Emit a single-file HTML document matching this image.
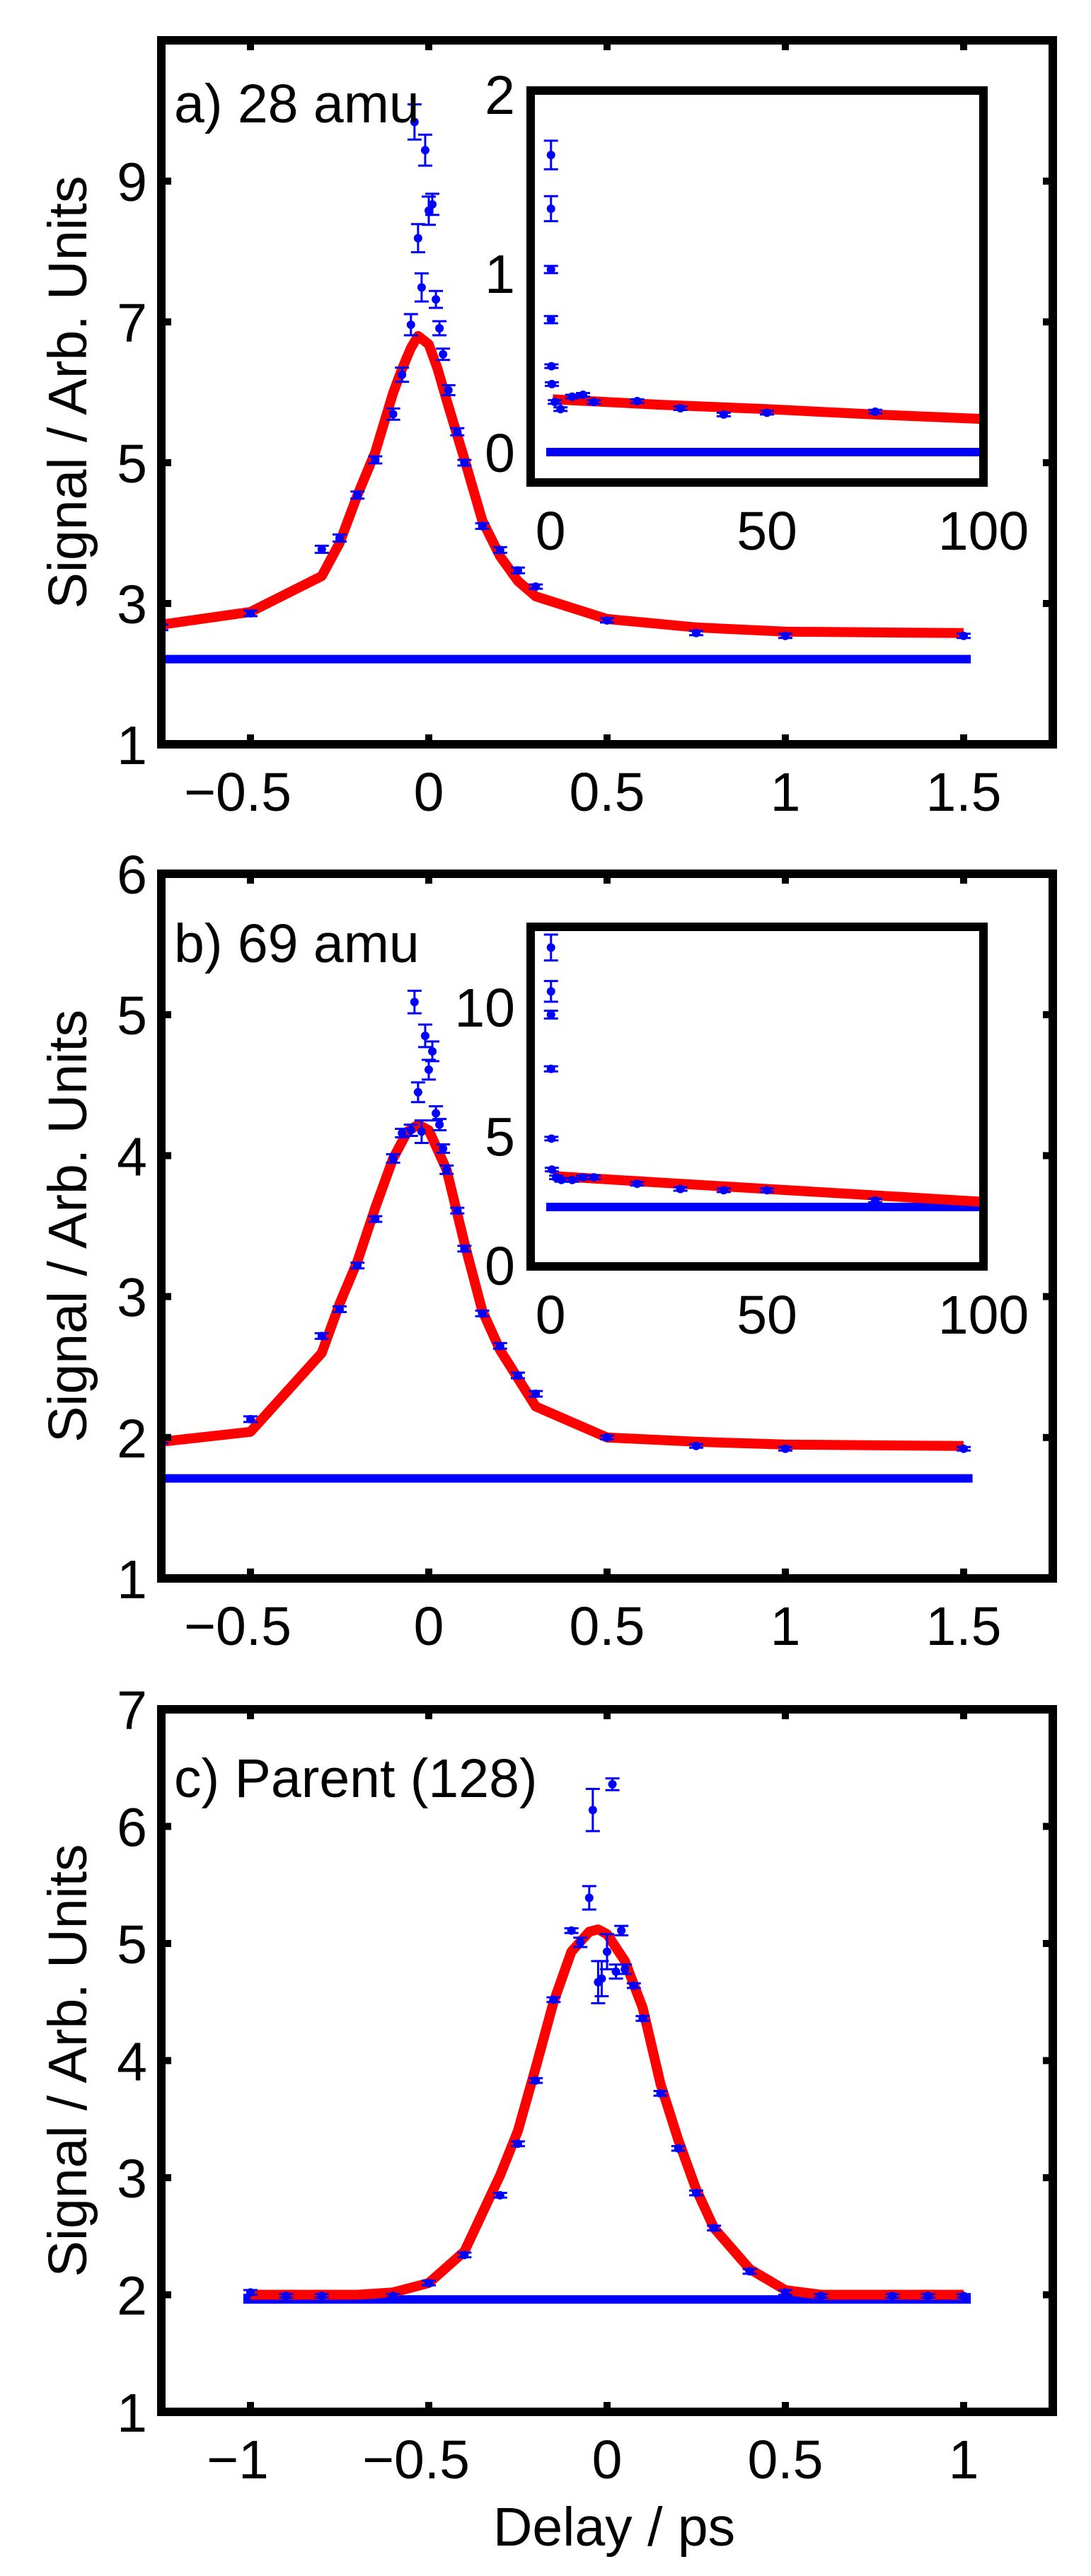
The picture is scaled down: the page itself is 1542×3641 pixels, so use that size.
<!DOCTYPE html>
<html><head><meta charset="utf-8"><style>
html,body{margin:0;padding:0;background:#fff;}
svg text{font-family:"Liberation Sans",sans-serif;fill:#000;}
</style></head><body>
<svg id="fig" xmlns="http://www.w3.org/2000/svg" width="1542" height="3636" viewBox="0 0 1542 3636">
<rect x="0" y="0" width="1542" height="3636" fill="#fff"/>
</svg>
<script>
// ---- Panel a (28 amu) ----
const aX=[-0.75,-0.5,-0.3,-0.25,-0.2,-0.15,-0.1,-0.075,-0.05,-0.04,-0.03,-0.02,-0.01,0,0.01,0.02,0.03,0.04,0.055,0.08,0.1,0.15,0.2,0.25,0.3,0.5,0.75,1,1.5];
const aY=[2.66,2.86,3.77,3.93,4.54,5.04,5.69,6.25,6.96,9.84,8.19,7.49,9.44,8.58,8.67,7.32,6.91,6.54,6.03,5.44,5.0,4.1,3.76,3.47,3.24,2.76,2.58,2.54,2.54];
const aErr=[0.04,0.04,0.05,0.05,0.05,0.05,0.08,0.1,0.15,0.25,0.2,0.2,0.22,0.2,0.15,0.12,0.1,0.08,0.07,0.05,0.04,0.04,0.04,0.04,0.03,0.03,0.03,0.03,0.03];
const aFitX=[-0.75,-0.5,-0.3,-0.25,-0.2,-0.15,-0.1,-0.075,-0.05,-0.03,0,0.025,0.05,0.1,0.15,0.2,0.25,0.3,0.5,0.75,1,1.5];
const aFitY=[2.7,2.88,3.39,3.86,4.54,5.15,5.99,6.33,6.63,6.8,6.68,6.33,5.89,5.05,4.18,3.67,3.32,3.1,2.78,2.66,2.6,2.58];
const aBase=2.21;
const aXTicks=[-0.5,0,0.5,1,1.5];
const aXLabels=["\u22120.5","0","0.5","1","1.5"];
const aYTicks=[1,3,5,7,9];
const aYLabels=["1","3","5","7","9"];
// inset a
const aiX=[0.1,0.1,0.1,0.1,0.2,0.3,1,2.3,5,7.5,10,20,30,40,50,75];
const aiY=[1.66,1.36,1.02,0.74,0.48,0.38,0.28,0.24,0.31,0.32,0.28,0.285,0.245,0.21,0.22,0.226];
const aiErr=[0.08,0.07,0.02,0.02,0.01,0.01,0.01,0.01,0.01,0.01,0.01,0.01,0.01,0.01,0.01,0.01];
const aiFitX=[0.5,25,50,75,100];
const aiFitY=[0.295,0.265,0.24,0.21,0.185];
const aiBase=0;
const aiXTicks=[0,50,100];
const aiYTicks=[0,1,2];

// ---- Panel b (69 amu) ----
const bX=[-0.75,-0.5,-0.3,-0.25,-0.2,-0.15,-0.1,-0.075,-0.05,-0.04,-0.03,-0.02,-0.01,0,0.01,0.02,0.03,0.04,0.05,0.08,0.1,0.15,0.2,0.25,0.3,0.5,0.75,1,1.5];
const bY=[1.98,2.13,2.72,2.91,3.22,3.55,3.98,4.16,4.18,5.09,4.45,4.17,4.85,4.61,4.74,4.30,4.22,4.05,3.90,3.61,3.34,2.88,2.65,2.44,2.31,2.0,1.94,1.92,1.92];
const bErr=[0.02,0.02,0.02,0.02,0.02,0.02,0.03,0.03,0.04,0.08,0.07,0.08,0.08,0.07,0.07,0.05,0.04,0.03,0.03,0.02,0.02,0.02,0.02,0.02,0.02,0.01,0.01,0.01,0.01];
const bFitX=[-0.75,-0.5,-0.3,-0.25,-0.2,-0.15,-0.1,-0.06,-0.03,0,0.05,0.1,0.15,0.2,0.25,0.3,0.5,0.75,1,1.5];
const bFitY=[1.97,2.04,2.6,2.95,3.25,3.63,3.98,4.17,4.22,4.18,3.9,3.38,2.9,2.62,2.42,2.22,2.0,1.97,1.95,1.94];
const bBase=1.71;
const bXTicks=[-0.5,0,0.5,1,1.5];
const bXLabels=["\u22120.5","0","0.5","1","1.5"];
const bYTicks=[1,2,3,4,5,6];
const bYLabels=["1","2","3","4","5","6"];
// inset b
const biX=[0.1,0.1,0.1,0.1,0.2,0.3,1.3,2.5,5,7.5,10,20,30,40,50,75];
const biY=[12.3,10.6,9.7,7.6,4.9,3.7,3.4,3.3,3.3,3.4,3.4,3.15,2.95,2.9,2.9,2.5];
const biErr=[0.5,0.4,0.15,0.1,0.05,0.05,0.05,0.05,0.05,0.05,0.05,0.05,0.05,0.05,0.05,0.05];
const biFitX=[0.5,25,50,75,100];
const biFitY=[3.45,3.2,2.95,2.7,2.45];
const biBase=2.25;
const biXTicks=[0,50,100];
const biYTicks=[0,5,10];

// ---- Panel c (Parent 128) ----
const cX=[-1,-0.9,-0.8,-0.6,-0.5,-0.4,-0.3,-0.25,-0.2,-0.15,-0.1,-0.075,-0.05,-0.04,-0.025,-0.015,0,0.015,0.025,0.04,0.05,0.075,0.1,0.15,0.2,0.25,0.3,0.4,0.5,0.6,0.8,0.9,1];
const cY=[2.02,1.99,1.99,1.99,2.1,2.34,2.85,3.29,3.83,4.52,5.11,5.01,5.39,6.14,4.67,4.70,4.93,6.36,4.76,5.11,4.78,4.64,4.36,3.72,3.25,2.87,2.57,2.2,2.02,1.99,1.99,1.99,1.99];
const cErr=[0.02,0.01,0.01,0.01,0.02,0.02,0.02,0.02,0.02,0.02,0.02,0.04,0.1,0.18,0.18,0.15,0.15,0.05,0.06,0.04,0.04,0.02,0.02,0.02,0.02,0.02,0.02,0.02,0.02,0.01,0.01,0.01,0.01];
const cFitX=[-1,-0.9,-0.8,-0.7,-0.6,-0.5,-0.4,-0.3,-0.25,-0.2,-0.15,-0.1,-0.05,-0.025,0,0.05,0.1,0.15,0.2,0.25,0.3,0.4,0.5,0.6,0.7,0.8,0.9,1];
const cFitY=[2.0,2.0,2.0,2.0,2.02,2.1,2.37,3.02,3.4,3.94,4.5,4.93,5.1,5.12,5.08,4.85,4.45,3.8,3.32,2.9,2.57,2.22,2.04,2.0,2.0,2.0,2.0,2.0];
const cBase=1.96;
const cXTicks=[-1,-0.5,0,0.5,1];
const cXLabels=["\u22121","\u22120.5","0","0.5","1"];
const cYTicks=[1,2,3,4,5,6,7];
const cYLabels=["1","2","3","4","5","6","7"];

const NS="http://www.w3.org/2000/svg";
const svg=document.getElementById('fig');
let clipN=0;
function mk(tag,attrs,parent){const e=document.createElementNS(NS,tag);for(const k in attrs)e.setAttribute(k,attrs[k]);(parent||svg).appendChild(e);return e;}
function scale(d0,d1,p0,p1){return v=>p0+(v-d0)/(d1-d0)*(p1-p0);}

function drawData(g,sx,sy,xs,ys,errs,fx,fy,base,baseX0,baseX1,name,dotR){
  const bl=mk('line',{x1:sx(baseX0),x2:sx(baseX1),y1:sy(base),y2:sy(base),stroke:'#0000ff','stroke-width':12},g);
  
  
  let d='';
  for(let i=0;i<fx.length;i++)d+=(i?'L':'M')+sx(fx[i]).toFixed(1)+','+sy(fy[i]).toFixed(1);
  const fit=mk('path',{d:d,fill:'none',stroke:'#ff0000','stroke-width':14,'stroke-linejoin':'round'},g);
  
  
  for(let i=0;i<xs.length;i++){
    const px=sx(xs[i]),py=sy(ys[i]);
    const e=Math.max(Math.abs(sy(ys[i]+errs[i])-py),2.5);
    const pg=mk('g',{},g);
    
    
    mk('line',{x1:px,x2:px,y1:py-e,y2:py+e,stroke:'#0000ff','stroke-width':3},pg);
    mk('line',{x1:px-10,x2:px+10,y1:py-e,y2:py-e,stroke:'#0000ff','stroke-width':3},pg);
    mk('line',{x1:px-10,x2:px+10,y1:py+e,y2:py+e,stroke:'#0000ff','stroke-width':3},pg);
    mk('circle',{cx:px,cy:py,r:dotR,fill:'#0000ff'},pg);
  }
}

function panel(o){
  const g=mk('g',{});
  
  
  const sx=scale(o.xlim[0],o.xlim[1],o.L,o.R), sy=scale(o.ylim[0],o.ylim[1],o.B,o.T);
  const id='clip'+(clipN++);
  const cp=mk('clipPath',{id:id},g);
  mk('rect',{x:o.L,y:o.T,width:o.R-o.L,height:o.B-o.T},cp);
  const dg=mk('g',{'clip-path':'url(#'+id+')'},g);
  drawData(dg,sx,sy,o.x,o.y,o.err,o.fx,o.fy,o.base,o.baseX0,o.baseX1,o.name,6);
  // ticks
  o.xt.forEach(v=>{
    const t1=mk('line',{x1:sx(v),x2:sx(v),y1:o.B,y2:o.B-14,stroke:'#000','stroke-width':10},g);
     
    mk('line',{x1:sx(v),x2:sx(v),y1:o.T,y2:o.T+14,stroke:'#000','stroke-width':10},g);
  });
  o.yt.forEach(v=>{
    mk('line',{x1:o.L,x2:o.L+14,y1:sy(v),y2:sy(v),stroke:'#000','stroke-width':10},g);
    mk('line',{x1:o.R,x2:o.R-14,y1:sy(v),y2:sy(v),stroke:'#000','stroke-width':10},g);
  });
  const fr=mk('rect',{x:o.L,y:o.T,width:o.R-o.L,height:o.B-o.T,fill:'none',stroke:'#000','stroke-width':12},g);
  
  
  o.xt.forEach((v,i)=>{
    const t=mk('text',{x:sx(v)-(o.xl[i].charAt(0)==='\u2212'?18:0),y:o.B+94,'font-size':77,'text-anchor':'middle'},g);
    t.textContent=o.xl[i];
    
    
  });
  o.yt.forEach((v,i)=>{
    const t=mk('text',{x:208,y:sy(v)+28,'font-size':77,'text-anchor':'end'},g);
    t.textContent=o.yl[i];
    
    
  });
  const cy=(o.T+o.B)/2;
  const yl=mk('text',{x:0,y:0,'font-size':77,'text-anchor':'middle',transform:'translate(122,'+cy+') rotate(-90)'},g);
  yl.textContent='Signal / Arb. Units';
  
  
  const ti=mk('text',{x:246,y:o.titleY,'font-size':77},g);
  ti.textContent=o.title;
  
  
  if(o.inset){
    const n=o.inset;
    const ig=mk('g',{},g);
    
    
    mk('rect',{x:n.L,y:n.T,width:n.R-n.L,height:n.B-n.T,fill:'#fff'},ig);
    const isx=scale(n.xlim[0],n.xlim[1],n.L,n.R), isy=scale(n.ylim[0],n.ylim[1],n.B,n.T);
    const iid='clip'+(clipN++);
    const icp=mk('clipPath',{id:iid},ig);
    mk('rect',{x:n.L,y:n.T,width:n.R-n.L,height:n.B-n.T},icp);
    const idg=mk('g',{'clip-path':'url(#'+iid+')'},ig);
    drawData(idg,isx,isy,n.x,n.y,n.err,n.fx,n.fy,n.base,n.baseX0,n.baseX1,o.name+'-inset',6);
    mk('rect',{x:n.L,y:n.T,width:n.R-n.L,height:n.B-n.T,fill:'none',stroke:'#000','stroke-width':12},ig);
    n.xt.forEach(v=>{
      const t=mk('text',{x:isx(v),y:n.B+95,'font-size':77,'text-anchor':'middle'},ig);
      t.textContent=String(v);
      
      
    });
    n.yt.forEach(v=>{
      const t=mk('text',{x:n.L-22,y:isy(v)+28,'font-size':77,'text-anchor':'end'},ig);
      t.textContent=String(v);
      
      
    });
  }
  return {sx,sy};
}

panel({name:'panel-a-28amu',L:228,R:1488,T:57,B:1052,xlim:[-0.75,1.75],ylim:[1,11],
  x:aX,y:aY,err:aErr,fx:aFitX,fy:aFitY,base:aBase,baseX0:-0.75,baseX1:1.52,
  xt:aXTicks,xl:aXLabels,yt:aYTicks,yl:aYLabels,title:'a) 28 amu',titleY:173,
  inset:{L:750,R:1390,T:128,B:682,xlim:[-4.6,100],ylim:[-0.17,2.02],x:aiX,y:aiY,err:aiErr,
    fx:aiFitX,fy:aiFitY,base:aiBase,baseX0:-1,baseX1:100,xt:aiXTicks,yt:aiYTicks}});
panel({name:'panel-b-69amu',L:228,R:1488,T:1235,B:2231,xlim:[-0.75,1.75],ylim:[1,6],
  x:bX,y:bY,err:bErr,fx:bFitX,fy:bFitY,base:bBase,baseX0:-0.75,baseX1:1.525,
  xt:bXTicks,xl:bXLabels,yt:bYTicks,yl:bYLabels,title:'b) 69 amu',titleY:1360,
  inset:{L:750,R:1390,T:1310,B:1790,xlim:[-4.6,100],ylim:[-0.05,13.1],x:biX,y:biY,err:biErr,
    fx:biFitX,fy:biFitY,base:biBase,baseX0:-1,baseX1:100,xt:biXTicks,yt:biYTicks}});
panel({name:'panel-c-parent',L:228,R:1488,T:2416,B:3409,xlim:[-1.25,1.25],ylim:[1,7],
  x:cX,y:cY,err:cErr,fx:cFitX,fy:cFitY,base:cBase,baseX0:-1.02,baseX1:1.02,
  xt:cXTicks,xl:cXLabels,yt:cYTicks,yl:cYLabels,title:'c) Parent (128)',titleY:2540});

const xl=document.createElementNS(NS,'text');
xl.setAttribute('x',868);xl.setAttribute('y',3598);xl.setAttribute('font-size',77);xl.setAttribute('text-anchor','middle');
xl.textContent='Delay / ps';


svg.appendChild(xl);
</script>
</body></html>
